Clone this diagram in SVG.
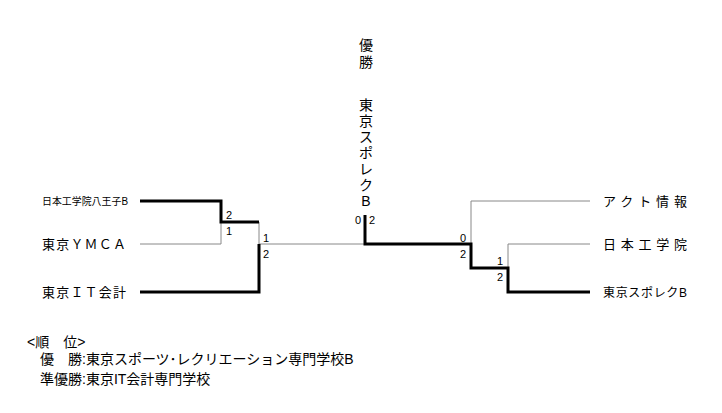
<svg xmlns="http://www.w3.org/2000/svg" width="722" height="413" viewBox="0 0 722 413">
<style>
text{font-family:"Liberation Sans","Noto Sans CJK JP",sans-serif;fill:#000}
.t{font-size:13px}
.s{font-size:11px}
.v{font-size:14px;text-anchor:middle}
.thin{stroke:#888;stroke-width:1;fill:none}
.thick{stroke:#000;stroke-width:3;fill:none}
</style>
<rect width="722" height="413" fill="#fff"/>
<g id="title">
<text class="v" x="366" y="50">優</text>
<text class="v" x="366" y="67">勝</text>
<text class="v" x="366" y="110">東</text>
<text class="v" x="366" y="126">京</text>
<text class="v" x="366" y="142">ス</text>
<text class="v" x="366" y="158">ポ</text>
<text class="v" x="366" y="174">レ</text>
<text class="v" x="366" y="190">ク</text>
<text class="v" x="366" y="206">B</text>
</g>
<g id="team-l1"><text x="42" y="205" style="font-size:10px" textLength="86" lengthAdjust="spacingAndGlyphs">日本工学院八王子B</text></g>
<g id="team-l2"><text class="t" x="42" y="249" textLength="84">東京ＹＭＣＡ</text></g>
<g id="team-l3"><text class="t" x="42" y="297" textLength="84">東京ＩＴ会計</text></g>
<g id="team-r1"><text class="t" x="603" y="206" textLength="84">アクト情報</text></g>
<g id="team-r2"><text class="t" x="603" y="249" textLength="84">日本工学院</text></g>
<g id="team-r3"><text class="t" x="603" y="297" style="font-size:12px" textLength="84">東京スポレクB</text></g>
<g id="connectors">
<path class="thin" d="M140 244H221V222M259 222V244H365M471 244V201H590M508 268V244H590"/>
<path class="thick" d="M140 201H221V222H259M140 292H259V244M365 215V244H471V268H508V292H590"/>
</g>
<g id="scores">
<text class="s" x="226" y="219">2</text>
<text class="s" x="226" y="235">1</text>
<text class="s" x="263" y="242">1</text>
<text class="s" x="263" y="258">2</text>
<text class="s" x="355" y="224">0</text>
<text class="s" x="369" y="224">2</text>
<text class="s" x="460" y="242">0</text>
<text class="s" x="460" y="258">2</text>
<text class="s" x="497" y="265">1</text>
<text class="s" x="497" y="281">2</text>
</g>
<g id="ranking">
<text style="font-size:14px" x="27" y="347">&lt;順　位&gt;</text>
<text style="font-size:14px" x="40" y="364">優　勝:東京スポーツ･レクリエーション専門学校B</text>
<text style="font-size:14px" x="40" y="384">準優勝:東京IT会計専門学校</text>
</g>
</svg>
